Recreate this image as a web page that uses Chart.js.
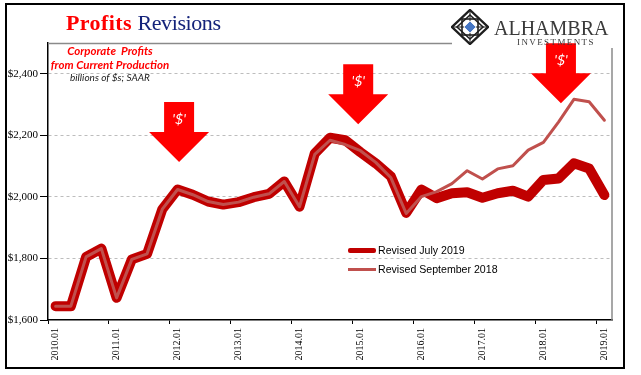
<!DOCTYPE html>
<html><head><meta charset="utf-8">
<script src="https://cdn.jsdelivr.net/npm/chart.js@4.4.1/dist/chart.umd.min.js"></script>
<style>
html,body{margin:0;padding:0;background:#fff;}
#wrap{position:relative;width:641px;height:375px;overflow:hidden;background:#fff;}
#c{position:absolute;left:0;top:0;}
.frame{position:absolute;left:5px;top:3px;width:620px;height:366px;border:2px solid #000;box-sizing:border-box;pointer-events:none;}
.t{position:absolute;white-space:nowrap;}
.title{left:66px;top:12px;font-family:"Liberation Serif",serif;font-size:22px;line-height:22px;}
.title b{color:#FF0000;letter-spacing:0.4px;}
.title span{color:#14237A;letter-spacing:-0.4px;}
.ann{left:40px;width:140px;text-align:center;font-family:Lato,"Open Sans",sans-serif;font-style:italic;}
.a1{top:45px;font-size:11.5px;line-height:12px;font-weight:bold;color:#FF0000;}
.a2{top:59px;font-size:11.5px;line-height:12px;font-weight:bold;color:#FF0000;}
.a3{top:72px;font-size:10px;line-height:10px;color:#1a1a1a;}
.logo1{left:494px;top:18px;font-family:"Liberation Serif",serif;font-size:20px;line-height:20px;color:#3a3a3a;}
.logo2{left:517px;top:38px;font-family:"Liberation Serif",serif;font-size:9px;line-height:9px;color:#3a3a3a;letter-spacing:1.4px;}
.lg{position:absolute;left:348px;width:28px;}
.lt{left:378px;font-family:"Liberation Sans",Arial,sans-serif;font-size:10.6px;line-height:11px;color:#000;}
</style>
</head><body>
<div id="wrap">
<canvas id="c" width="641" height="375"></canvas>
<div class="t title"><b>Profits</b> <span>Revisions</span></div>
<div class="t ann a1">Corporate&nbsp; Profits</div>
<div class="t ann a2">from Current Production</div>
<div class="t ann a3">billions of $s; SAAR</div>
<svg style="position:absolute;left:451px;top:9px" width="38" height="36" viewBox="0 0 38 36">
  <polygon points="19,1 37,18 19,35 1,18" fill="none" stroke="#1e1e1e" stroke-width="2.4"/>
  <polygon points="19,6 32,18 19,30 6,18" fill="none" stroke="#1e1e1e" stroke-width="1.6"/>
  <rect x="11" y="10" width="16" height="16" fill="none" stroke="#1e1e1e" stroke-width="1.6"/>
  <line x1="19" y1="1" x2="19" y2="35" stroke="#1e1e1e" stroke-width="1"/>
  <line x1="1" y1="18" x2="37" y2="18" stroke="#1e1e1e" stroke-width="1"/>
  <polygon points="19,12 25,18 19,24 13,18" fill="#4576C4" stroke="#fff" stroke-width="0.8"/>
</svg>
<div class="t logo1">ALHAMBRA</div>
<div class="t logo2">INVESTMENTS</div>
<div class="lg" style="top:247.5px;height:5px;background:#C00000;border-radius:2px;"></div>
<div class="t lt" style="top:244.5px;">Revised July 2019</div>
<div class="lg" style="top:267.5px;height:3px;background:#C0504D;"></div>
<div class="t lt" style="top:263.5px;">Revised September 2018</div>
<div class="frame"></div>
</div>
<script>
const categories = [
 "2010.01","2010.02","2010.03","2010.04",
 "2011.01","2011.02","2011.03","2011.04",
 "2012.01","2012.02","2012.03","2012.04",
 "2013.01","2013.02","2013.03","2013.04",
 "2014.01","2014.02","2014.03","2014.04",
 "2015.01","2015.02","2015.03","2015.04",
 "2016.01","2016.02","2016.03","2016.04",
 "2017.01","2017.02","2017.03","2017.04",
 "2018.01","2018.02","2018.03","2018.04",
 "2019.01"];
const revisedJuly2019 = [
 1645,1645,1805,1832,
 1672,1797,1815,1960,
 2024,2007,1985,1975,
 1983,1999,2010,2050,
 1968,2141,2192,2184,
 2145,2109,2066,1948,
 2024,1996,2012,2015,
 1997,2012,2020,2001,
 2055,2060,2109,2092,
 2006];
const revisedSep2018 = [
 1645,1645,1805,1832,
 1672,1797,1815,1960,
 2024,2007,1985,1975,
 1983,1999,2010,2050,
 1968,2138,2184,2170,
 2150,2112,2062,1946,
 2001,2017,2043,2085,
 2058,2091,2101,2152,
 2177,2244,2317,2309,
 2249];
const yTicks = [1600,1800,2000,2200,2400];
const arrowTips = [ {idx:8.1, val:2113}, {idx:19.85, val:2236}, {idx:33.15, val:2304} ];

const deco = {
  id:'deco',
  afterDraw(chart){
    const ctx = chart.ctx, a = chart.chartArea, xs = chart.scales.x, ys = chart.scales.y;
    ctx.save();
    ctx.strokeStyle = '#8a8a8a'; ctx.lineWidth = 1.5;
    ctx.beginPath(); ctx.moveTo(a.left, a.top+0.5); ctx.lineTo(452, a.top+0.5); ctx.stroke();
    ctx.beginPath(); ctx.moveTo(a.right, a.top+5); ctx.lineTo(a.right, a.bottom); ctx.stroke();
    const step = xs.getPixelForValue(1) - xs.getPixelForValue(0);
    arrowTips.forEach(t => {
      const i0 = Math.floor(t.idx);
      const x = xs.getPixelForValue(i0) + (t.idx - i0) * step;
      const y = ys.getPixelForValue(t.val);
      ctx.fillStyle = '#FF0000';
      ctx.beginPath();
      ctx.moveTo(x, y);
      ctx.lineTo(x-30, y-30);
      ctx.lineTo(x-15, y-30);
      ctx.lineTo(x-15, y-60);
      ctx.lineTo(x+15, y-60);
      ctx.lineTo(x+15, y-30);
      ctx.lineTo(x+30, y-30);
      ctx.closePath();
      ctx.fill();
      ctx.fillStyle = '#fff';
      ctx.font = 'italic 14px Lato, sans-serif';
      ctx.textAlign = 'center'; ctx.textBaseline = 'middle';
      ctx.fillText("'$'", x, y-43);
    });
    ctx.restore();
  }
};

new Chart(document.getElementById('c'), {
  type:'line',
  data:{
    labels: categories,
    datasets:[
      {label:'Revised July 2019', data: revisedJuly2019, borderColor:'#C00000', borderWidth:10,
       pointRadius:0, tension:0, borderJoinStyle:'round', borderCapStyle:'round', order:1, fill:false},
      {label:'Revised September 2018', data: revisedSep2018, borderColor:'#C0504D', borderWidth:3,
       pointRadius:0, tension:0, borderJoinStyle:'round', borderCapStyle:'round', order:0, fill:false}
    ]
  },
  options:{
    responsive:false, animation:false, devicePixelRatio:1,
    layout:{padding:{left:0, top:43, right:29, bottom:0}},
    plugins:{legend:{display:false}, tooltip:{enabled:false}, title:{display:false}},
    scales:{
      x:{
        type:'category', offset:true,
        afterFit(s){ s.height = 55; },
        grid:{ offset:true, drawOnChartArea:false, drawTicks:true, tickLength:4,
          tickColor:(c)=> (c.index!==undefined && c.index%4===0) ? '#000' : 'rgba(0,0,0,0)' },
        border:{display:true, color:'#000', width:1.5},
        ticks:{ autoSkip:false, maxRotation:90, minRotation:90, padding:4, color:'#000',
          font:{family:'"Liberation Serif", serif', size:10},
          callback(v, i){ return i%4===0 ? categories[i] : ''; } }
      },
      y:{
        min:1600, max:2500,
        afterFit(s){ s.width = 48; },
        afterBuildTicks(s){ s.ticks = yTicks.map(v=>({value:v})); },
        grid:{ color:(c)=> (c.tick && c.tick.value>1600) ? '#BDBDBD' : 'rgba(0,0,0,0)',
          lineWidth:1, tickLength:8, tickColor:'#000', tickBorderDash:[] },
        border:{display:true, color:'#000', width:1.5, dash:[3,3]},
        ticks:{ padding:2, color:'#000', font:{family:'"Liberation Serif", serif', size:11},
          callback(v){ return '$' + v.toLocaleString('en-US'); } }
      }
    }
  },
  plugins:[deco]
});
</script>
</body></html>
